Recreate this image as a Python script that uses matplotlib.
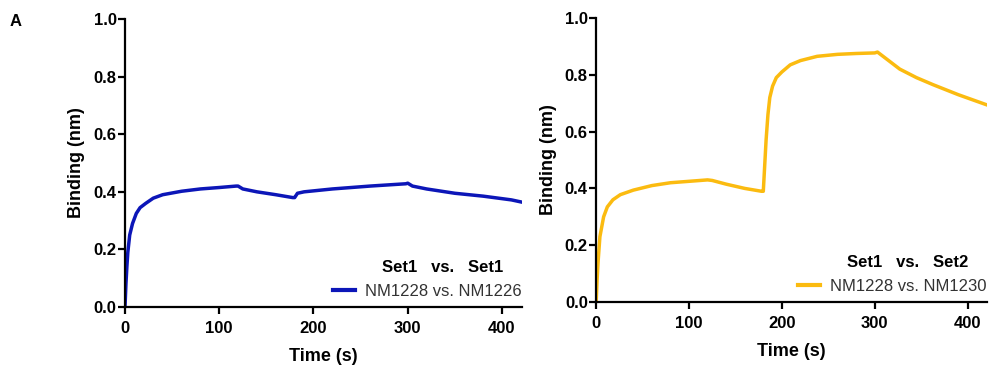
import matplotlib.pyplot as plt
from matplotlib.lines import Line2D

plt.rcParams['font.family'] = ['Liberation Sans', 'DejaVu Sans']

# Left panel: NM1228 vs. NM1226 (Set1 vs. Set1)
t_left = [0, 1, 2, 3, 5, 8, 12, 16, 22, 30, 40, 60, 80, 100, 118, 120, 125,
          140, 160, 178, 180, 183, 190, 220, 260, 298, 300, 305, 320, 350, 380,
          410, 420]
b_left = [0, 0.08, 0.14, 0.19, 0.25, 0.29, 0.325, 0.345, 0.36, 0.378, 0.39,
          0.402, 0.41, 0.415, 0.42, 0.42, 0.41, 0.4, 0.39, 0.38, 0.38, 0.395,
          0.40, 0.41, 0.42, 0.428, 0.43, 0.42, 0.41, 0.395, 0.385, 0.372, 0.365]

# Right panel: NM1228 vs. NM1230 (Set1 vs. Set2)
t_right = [0, 1, 2, 4, 8, 12, 18, 26, 40, 60, 80, 100, 120, 125, 140, 160, 178,
           180, 181, 183, 185, 187, 190, 194, 200, 209, 220, 238, 260, 280, 300,
           303, 315, 327, 345, 363, 390, 420]
b_right = [0, 0.08, 0.14, 0.23, 0.30, 0.335, 0.36, 0.378, 0.394, 0.41, 0.42,
           0.425, 0.43, 0.428, 0.415, 0.40, 0.39, 0.39, 0.45, 0.57, 0.66, 0.72,
           0.76, 0.79, 0.81, 0.835, 0.85, 0.865, 0.872, 0.875, 0.877, 0.88, 0.85,
           0.82, 0.79, 0.765, 0.73, 0.695]

panels = [
    (t_left, b_left, '#0c16b8', 'Set1   vs.   Set1    ', 'NM1228 vs. NM1226',
     [0.126, 0.1635, 0.400, 0.7845]),
    (t_right, b_right, '#fbbb10', 'Set1   vs.   Set2    ', 'NM1228 vs. NM1230',
     [0.601, 0.177, 0.394, 0.774]),
]

fig = plt.figure(figsize=(9.92, 3.67), dpi=100)

for t, b, color, title, label, rect in panels:
    ax = fig.add_axes(rect)
    ax.plot(t, b, color=color, lw=2.5, solid_joinstyle='round')
    ax.set_xlim(0, 421)
    ax.set_ylim(0, 1.0)
    ax.set_xticks([0, 100, 200, 300, 400])
    ax.set_yticks([0, 0.2, 0.4, 0.6, 0.8, 1.0])
    ax.set_yticklabels(['0.0', '0.2', '0.4', '0.6', '0.8', '1.0'])
    for s in ['top', 'right']:
        ax.spines[s].set_visible(False)
    for s in ['left', 'bottom']:
        ax.spines[s].set_linewidth(1.6)
    ax.tick_params(width=1.6, length=5, labelsize=12)
    ax.tick_params(axis='y', pad=1)
    ax.tick_params(axis='x', pad=5)
    for lab in ax.get_xticklabels() + ax.get_yticklabels():
        lab.set_fontweight('bold')
    ax.set_xlabel('Time (s)', fontsize=13, fontweight='bold', labelpad=9)
    ax.set_ylabel('Binding (nm)', fontsize=13, fontweight='bold', labelpad=6)

    handle = Line2D([0], [0], color=color, lw=3)
    leg = ax.legend([handle], [label], title=title, loc='lower right',
                    frameon=False, fontsize=12, handlelength=1.3,
                    handletextpad=0.6, borderaxespad=0.1,
                    bbox_to_anchor=(1.02, 0.0), alignment='right')
    leg.get_title().set_fontweight('bold')
    leg.get_title().set_fontsize(12)
    for txt in leg.get_texts():
        txt.set_color('#333333')

fig.text(0.010, 0.93, 'A', fontsize=12, fontweight='bold')

fig.savefig('out.png', dpi=100)
